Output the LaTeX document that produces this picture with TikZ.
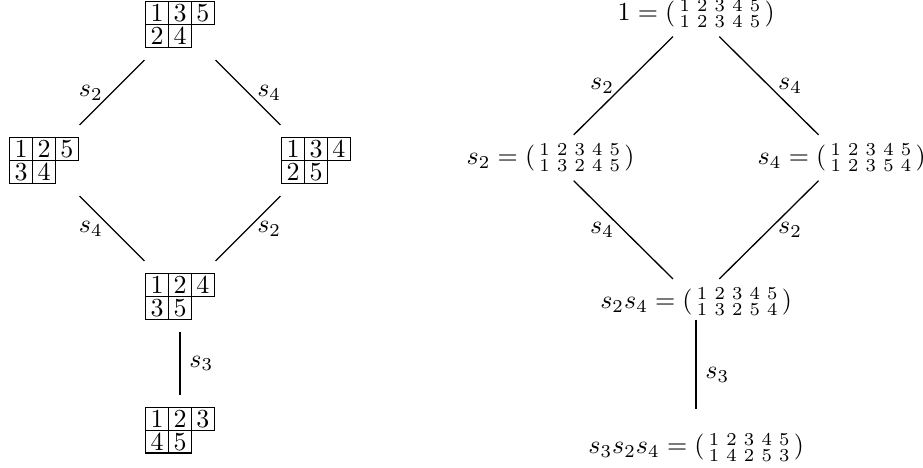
\documentclass[tikz,border=0pt]{standalone}
\usepackage{amsmath}
\usetikzlibrary{matrix, positioning}

\begin{document}
\begin{tikzpicture}[
    node distance=1.84cm and 1.84cm,
    on grid,
    line width=0.5pt,
    % Define styles
    tableau/.style={
        matrix of nodes,
        inner sep=4.4pt,
        column sep=-0.5pt,
        row sep=-0.5pt,
        nodes={draw, minimum size=8.8pt, inner sep=0pt, anchor=center}
    },
    perm/.style={
        inner sep=3.33pt
    }
]
\useasboundingbox (0,0) rectangle (12.49,-6.32);

% Left: tableaux
\matrix[tableau] (t135) at (2.436,-0.332) {1 & 3 & 5 \\ 2 & 4 \\};
\matrix[tableau, below left=of t135] (t125) {1 & 2 & 5 \\ 3 & 4 \\};
\matrix[tableau, below right=of t135] (t134) {1 & 3 & 4 \\ 2 & 5 \\};
\matrix[tableau, below right=of t125] (t124) {1 & 2 & 4 \\ 3 & 5 \\};
\matrix[tableau, below=1.81cm of t124] (t123) {1 & 2 & 3 \\ 4 & 5 \\};

% Right: permutations
\node[perm] (e) at (9.42,-0.185)
    {$1 = (\begin{smallmatrix}1&2&3&4&5\\1&2&3&4&5\end{smallmatrix})$};
\node[perm, below left=1.95cm and 1.97cm of e] (s2)
    {$s_2 = (\begin{smallmatrix}1&2&3&4&5\\1&3&2&4&5\end{smallmatrix})$};
\node[perm, below right=1.95cm and 1.97cm of e] (s4)
    {$s_4 = (\begin{smallmatrix}1&2&3&4&5\\1&2&3&5&4\end{smallmatrix})$};
\node[perm, below right=1.95cm and 1.97cm of s2] (s2s4)
    {$s_2s_4 = (\begin{smallmatrix}1&2&3&4&5\\1&3&2&5&4\end{smallmatrix})$};
\node[perm, below=1.97cm of s2s4] (s3s2s4)
    {$s_3s_2s_4 = (\begin{smallmatrix}1&2&3&4&5\\1&4&2&5&3\end{smallmatrix})$};

% Draw edges
\draw (t135) -- node[left] {$s_2$} (t125);
\draw (t135) -- node[right] {$s_4$} (t134);
\draw (t125) -- node[left] {$s_4$} (t124);
\draw (t134) -- node[right] {$s_2$} (t124);
\draw (t124) -- node[right] {$s_3$} (t123);

\draw (e) -- node[left] {$s_2$} (s2);
\draw (e) -- node[right] {$s_4$} (s4);
\draw (s2) -- node[left] {$s_4$} (s2s4);
\draw (s4) -- node[right] {$s_2$} (s2s4);
\draw[shorten <=-2pt, shorten >=6pt] (s2s4) -- node[right] {$s_3$} (s3s2s4);

\end{tikzpicture}
\end{document}
